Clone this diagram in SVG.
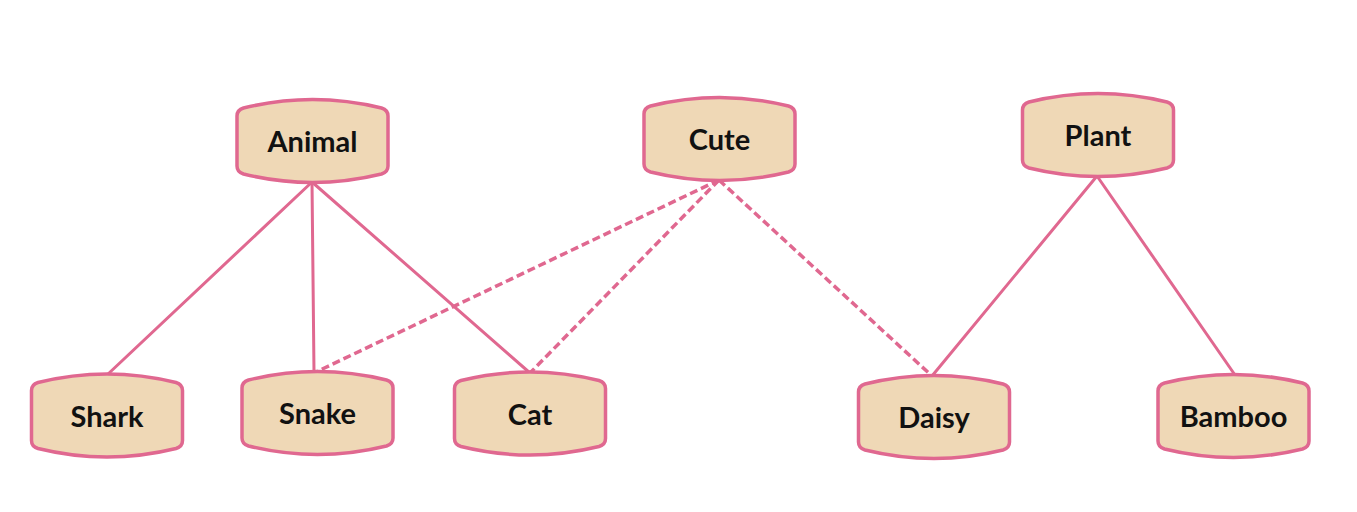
<svg xmlns="http://www.w3.org/2000/svg" xmlns:xlink="http://www.w3.org/1999/xlink" width="1357" height="512" viewBox="0 0 1357 512">
<style>
.edge{stroke:#e06890;stroke-width:3;fill:none;stroke-linecap:round}
.dash{stroke-width:3.5;stroke-dasharray:8 4;stroke-linecap:butt}
.shape{fill:#efd8b6;stroke:#e06890;stroke-width:3.5;stroke-linejoin:round}
.lbl{font-family:Lato,"Open Sans","DejaVu Sans",sans-serif;font-weight:700;font-size:29px;fill:#111;text-anchor:middle}
</style>
<defs>
<path id="barrel" d="M-75.5,-25 Q-75.5,-31 -69,-33 Q0,-50 69,-33 Q75.5,-31 75.5,-25 L75.5,25 Q75.5,31 69,33 Q0,50 -69,33 Q-75.5,31 -75.5,25 Z"/>
</defs>
<rect width="1357" height="512" fill="#fff"/>
<g id="connectors">
<line class="edge" x1="312" y1="182" x2="107" y2="375"/>
<line class="edge" x1="312" y1="182" x2="314" y2="372"/>
<line class="edge" x1="312" y1="182" x2="530" y2="373"/>
<line class="edge dash" x1="719" y1="180" x2="316" y2="372"/>
<line class="edge dash" x1="719" y1="180" x2="531" y2="372"/>
<line class="edge dash" x1="719" y1="180" x2="932" y2="376"/>
<line class="edge" x1="1097" y1="176" x2="932" y2="376"/>
<line class="edge" x1="1097" y1="176" x2="1235" y2="375"/>
</g>
<g id="animal" transform="translate(312.5,141)"><use xlink:href="#barrel" class="shape"/><text class="lbl" y="11">Animal</text></g>
<g id="cute" transform="translate(719.5,139)"><use xlink:href="#barrel" class="shape"/><text class="lbl" y="11">Cute</text></g>
<g id="plant" transform="translate(1098,135)"><use xlink:href="#barrel" class="shape"/><text class="lbl" y="11">Plant</text></g>
<g id="shark" transform="translate(107,415.5)"><use xlink:href="#barrel" class="shape"/><text class="lbl" y="11">Shark</text></g>
<g id="snake" transform="translate(317.5,413)"><use xlink:href="#barrel" class="shape"/><text class="lbl" y="11">Snake</text></g>
<g id="cat" transform="translate(530,413.5)"><use xlink:href="#barrel" class="shape"/><text class="lbl" y="11">Cat</text></g>
<g id="daisy" transform="translate(934,417)"><use xlink:href="#barrel" class="shape"/><text class="lbl" y="11">Daisy</text></g>
<g id="bamboo" transform="translate(1233.5,416)"><use xlink:href="#barrel" class="shape"/><text class="lbl" y="11">Bamboo</text></g>
</svg>
